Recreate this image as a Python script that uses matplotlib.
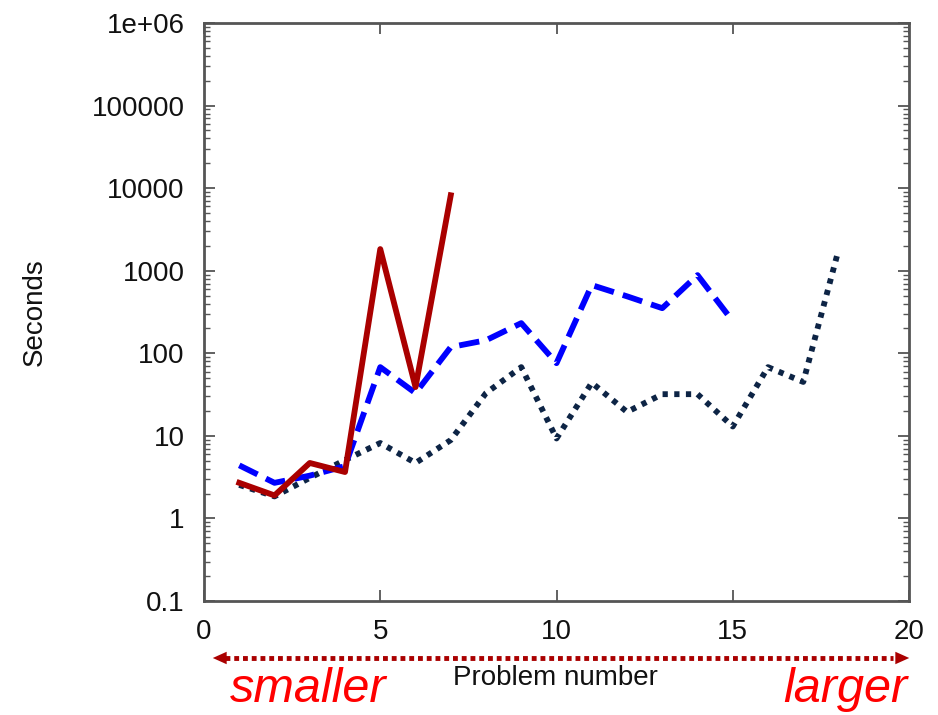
import numpy as np
import matplotlib.pyplot as plt
from matplotlib.ticker import LogLocator, FixedLocator, FixedFormatter

# Run times per problem for the three solvers
problems_a = [1, 2, 3, 4, 5, 6, 7]
seconds_a = [2.7, 1.9, 4.7, 3.65, 1830, 39, 8200]

problems_b = [1, 2, 3, 4, 5, 6, 7, 8, 9, 10, 11, 12, 13, 14, 15]
seconds_b = [4.4, 2.7, 3.3, 4.3, 68, 33, 119, 144, 232, 76, 670, 490, 352, 885, 245]

problems_c = [1, 2, 3, 4, 5, 6, 7, 8, 9, 10, 11, 12, 13, 14, 15, 16, 17, 18]
seconds_c = [2.55, 1.85, 3.1, 5.1, 8.2, 4.7, 8.9, 33, 68, 9.3, 44, 19.5, 32, 32, 13, 68, 45, 1780]

y_ticks = [0.1, 1, 10, 100, 1000, 10000, 100000, 1000000]
y_labels = ["0.1", "1", "10", "100", "1000", "10000", "100000", "1e+06"]

plt.rcParams['font.family'] = ['Liberation Sans', 'DejaVu Sans']

fig = plt.figure(figsize=(9.38, 7.15), dpi=100)
ax = fig.add_axes([0.2175, 0.1594, 0.7516, 0.8084])

ax.plot(problems_c, seconds_c, color='#0d2445', linewidth=4.2, linestyle=(0, (0.9, 1.1)))
ax.plot(problems_b, seconds_b, color='#0000ff', linewidth=4.2, linestyle=(0, (3.5, 1.6)))
ax.plot(problems_a, seconds_a, color='#aa0000', linewidth=4.2)

ax.set_yscale('log')
ax.set_xlim(0, 20)
ax.set_ylim(0.1, 1e6)
ax.set_xticks([0, 5, 10, 15, 20])
ax.yaxis.set_major_locator(FixedLocator(y_ticks))
ax.yaxis.set_major_formatter(FixedFormatter(y_labels))
ax.yaxis.set_minor_locator(LogLocator(base=10, subs=(2, 3, 4, 5, 6, 7, 8, 9), numticks=20))
ax.yaxis.set_minor_formatter(FixedFormatter([]))

ax.tick_params(which='both', direction='in', top=True, right=True, color='#555555')
ax.tick_params(which='major', length=8, width=1.3, labelsize=20, labelcolor='#111111')
ax.tick_params(axis='y', which='major', pad=14)
ax.tick_params(axis='x', which='major', pad=13)
ax.tick_params(which='minor', length=4, width=1.0)
for s in ax.spines.values():
    s.set_color('#555555')
    s.set_linewidth(2)

ax.set_ylabel("Seconds", fontsize=20, color='#111111')
ax.yaxis.set_label_coords(-0.222, 0.5)

# Size direction arrow and labels under the x axis
fig.text(555 / 938, 1 - 678 / 715, "Problem number", fontsize=20, color='#111111',
         ha='center', va='center')
arrow_y = 1 - 658 / 715
fig.add_artist(plt.Line2D([225 / 938, 893 / 938], [arrow_y, arrow_y], color='#aa0000',
                          linewidth=3.5, linestyle=(0, (1, 0.8))))
ax.annotate("", xy=(210 / 938, arrow_y), xytext=(230 / 938, arrow_y), xycoords='figure fraction',
            arrowprops=dict(arrowstyle='-|>,head_length=1.0,head_width=0.45', color='#aa0000', lw=0))
ax.annotate("", xy=(912 / 938, arrow_y), xytext=(890 / 938, arrow_y), xycoords='figure fraction',
            arrowprops=dict(arrowstyle='-|>,head_length=1.0,head_width=0.45', color='#aa0000', lw=0))
fig.text(308 / 938, 1 - 690 / 715, "smaller", fontsize=35, color='#ff0000', style='italic',
         ha='center', va='center')
fig.text(845 / 938, 1 - 690 / 715, "larger", fontsize=35, color='#ff0000', style='italic',
         ha='center', va='center')

fig.savefig('out.png', dpi=100)
